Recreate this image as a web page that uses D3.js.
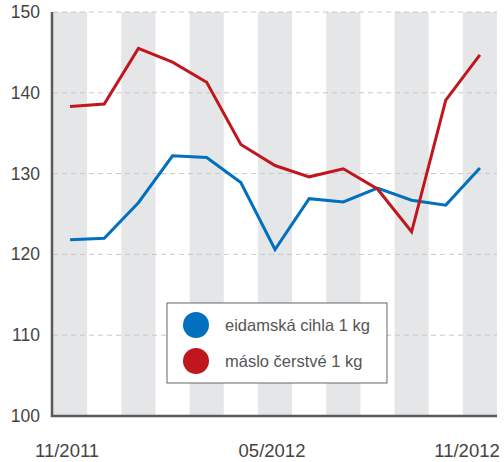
<!DOCTYPE html>
<html>
<head>
<meta charset="utf-8">
<script src="https://cdn.jsdelivr.net/npm/d3@7"></script>
<style>
  body { margin: 0; background: #fff; }
  svg { display: block; font-family: "Liberation Sans", Arial, sans-serif; }
</style>
</head>
<body>
<svg id="canvas"></svg>
<script>
// Data
const months = ["11/2011", "12/2011", "01/2012", "02/2012", "03/2012", "04/2012", "05/2012",
                "06/2012", "07/2012", "08/2012", "09/2012", "10/2012", "11/2012"];
const monthLabels = ["11/2011", "05/2012", "11/2012"];
const eidam = [121.8, 122.0, 126.4, 132.2, 132.0, 128.9, 120.6, 126.9, 126.5, 128.2, 126.7, 126.1, 130.7];
const maslo = [138.3, 138.6, 145.5, 143.8, 141.3, 133.6, 131.0, 129.6, 130.6, 128.1, 122.8, 139.1, 144.7];
const yTicks = [100, 110, 120, 130, 140, 150];
const seriesNames = ["eidamská cihla 1 kg", "máslo čerstvé 1 kg"];
const seriesColors = ["#0070bf", "#c0171f"];

const width = 504;
const height = 462;
const margin = { top: 12, right: 7, bottom: 46, left: 53 };

const svg = d3.select("#canvas")
    .attr("width", width)
    .attr("height", height);

const x = d3.scaleBand()
    .domain(months)
    .range([margin.left, width - margin.right])
    .paddingInner(0)
    .paddingOuter(0);

const y = d3.scaleLinear()
    .domain([100, 150])
    .range([height - margin.bottom, margin.top]);

// Alternating grey stripes
svg.append("g")
    .selectAll("rect")
    .data(months.filter((d, i) => i % 2 === 0))
    .enter()
    .append("rect")
    .attr("x", d => x(d))
    .attr("y", y(150))
    .attr("width", x.bandwidth())
    .attr("height", y(100) - y(150))
    .attr("fill", "#e5e6e8");

// Dashed gridlines
svg.append("g")
    .selectAll("line")
    .data(yTicks.filter(d => d > 100))
    .enter()
    .append("line")
    .attr("x1", margin.left)
    .attr("x2", width - margin.right)
    .attr("y1", d => y(d))
    .attr("y2", d => y(d))
    .attr("stroke", "#c8c8c8")
    .attr("stroke-width", 1)
    .attr("stroke-dasharray", "5,4");

// Y axis labels
svg.append("g")
    .selectAll("text")
    .data(yTicks)
    .enter()
    .append("text")
    .attr("x", 40)
    .attr("y", d => y(d) + 6)
    .attr("text-anchor", "end")
    .attr("font-size", 17.5)
    .attr("fill", "#444")
    .text(d => d);

// X axis labels (last one kept inside the picture)
svg.append("g")
    .selectAll("text")
    .data(monthLabels)
    .enter()
    .append("text")
    .attr("x", d => Math.min(x(d) + x.bandwidth() / 2 - 3, width - 37))
    .attr("y", 457)
    .attr("text-anchor", "middle")
    .attr("font-size", 18.5)
    .attr("fill", "#444")
    .text(d => d);

// Axis lines
svg.append("line")
    .attr("x1", margin.left - 1).attr("x2", margin.left - 1)
    .attr("y1", y(150)).attr("y2", y(100) + 1)
    .attr("stroke", "#5a5a5a").attr("stroke-width", 2.5);
svg.append("line")
    .attr("x1", margin.left - 2).attr("x2", width - margin.right)
    .attr("y1", y(100)).attr("y2", y(100))
    .attr("stroke", "#5a5a5a").attr("stroke-width", 2.5);

// Lines
const line = d3.line()
    .x((d, i) => x(months[i]) + x.bandwidth() / 2)
    .y(d => y(d));

[eidam, maslo].forEach((values, k) => {
    svg.append("path")
        .datum(values)
        .attr("d", line)
        .attr("fill", "none")
        .attr("stroke", seriesColors[k])
        .attr("stroke-width", 3)
        .attr("stroke-linejoin", "miter");
});

// Legend
const legend = svg.append("g").attr("transform", "translate(167,303)");
legend.append("rect")
    .attr("width", 220)
    .attr("height", 80)
    .attr("fill", "#fff")
    .attr("stroke", "#666")
    .attr("stroke-width", 1);

seriesNames.forEach((name, k) => {
    legend.append("circle")
        .attr("cx", 29)
        .attr("cy", 22 + k * 36)
        .attr("r", 13)
        .attr("fill", seriesColors[k]);
    legend.append("text")
        .attr("x", 58)
        .attr("y", 28 + k * 36)
        .attr("font-size", 16.5)
        .attr("fill", "#555")
        .text(name);
});
</script>
</body>
</html>
